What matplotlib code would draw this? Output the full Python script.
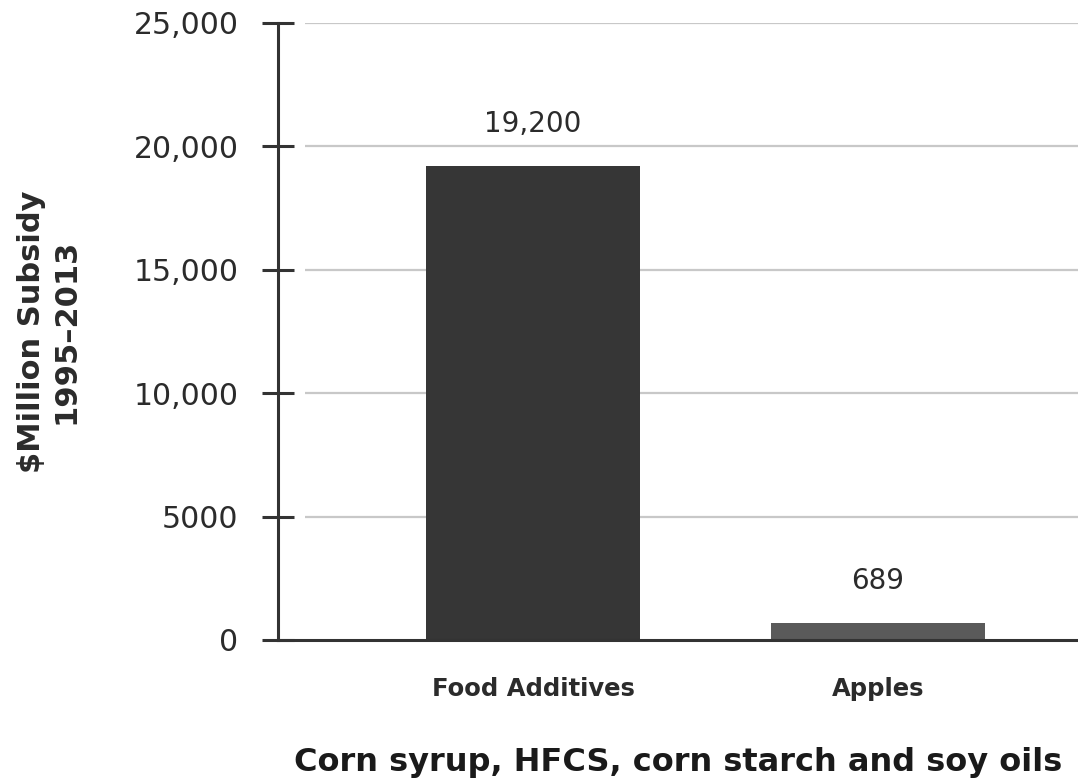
import matplotlib.pyplot as plt
import matplotlib.ticker as mticker

categories = ["Food Additives", "Apples"]
subsidy = [19200, 689]
bar_labels = ["19,200", "689"]
y_ticks = [0, 5000, 10000, 15000, 20000, 25000]
y_tick_labels = ["0", "5000", "10,000", "15,000", "20,000", "25,000"]

text_color = "#2b2b2b"
bar_colors = ["#363636", "#5a5a5a"]

plt.rcParams["font.family"] = ["DejaVu Sans"]

fig = plt.figure(figsize=(10.78, 7.84), dpi=100)
ax = fig.add_axes([0.258, 0.1837, 0.742, 0.787])

x = list(range(len(categories)))
ax.bar(x, subsidy, width=0.62, color=bar_colors, zorder=3)

for xi, val, lab in zip(x, subsidy, bar_labels):
    ax.annotate(lab, (xi, val), xytext=(0, 20), textcoords="offset points",
                ha="center", va="bottom", fontsize=20, color=text_color)

# gridlines start a little right of the spine, like the original
ax.hlines(y_ticks[1:], 0.034, 1.0, transform=ax.get_yaxis_transform(),
          color="#c8c8c8", linewidth=1.6, zorder=1)

ax.set_xlim(-0.739, 1.58)
ax.set_ylim(0, 25000)
ax.set_yticks(y_ticks)
ax.yaxis.set_major_formatter(mticker.FixedFormatter(y_tick_labels))
ax.set_xticks(x)
ax.set_xticklabels(categories, fontsize=17.5, color=text_color, fontweight="semibold")

ax.tick_params(axis="y", direction="inout", length=23, width=2.2, color="#333333",
               labelsize=21.5, labelcolor=text_color, pad=17)
ax.tick_params(axis="x", length=0, pad=27)

for side in ["top", "right"]:
    ax.spines[side].set_visible(False)
for side in ["left", "bottom"]:
    ax.spines[side].set_linewidth(2.2)
    ax.spines[side].set_color("#333333")
    ax.spines[side].set_zorder(4)

ax.set_ylabel("$Million Subsidy\n1995\u20132013", fontsize=22, fontweight="bold",
              color=text_color, labelpad=38, linespacing=1.25)
ax.set_xlabel("Corn syrup, HFCS, corn starch and soy oils", fontsize=23,
              fontweight="bold", color="#1a1a1a", labelpad=33)

fig.savefig("out.png", dpi=100)
